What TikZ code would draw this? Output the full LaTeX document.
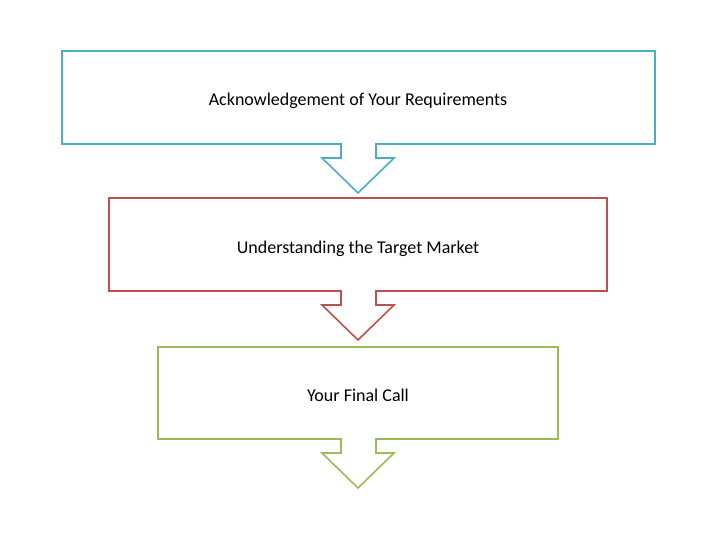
\documentclass[tikz,border=0pt]{standalone}
\usepackage{fontspec}
\setmainfont{Carlito}
\definecolor{cblue}{HTML}{4BACC6}
\definecolor{cred}{HTML}{C0504D}
\definecolor{cgreen}{HTML}{9BBB59}
\begin{document}
\begin{tikzpicture}[x=1pt,y=-1pt,
  outline/.style={line width=1.6pt,line join=miter},
  lbl/.style={font=\fontsize{18}{22}\selectfont,text=black,inner sep=0pt,anchor=base}]
\useasboundingbox (0,0) rectangle (720,540);
% box 1
\draw[outline,cblue] (62,51) -- (655,51) -- (655,144) -- (376,144) -- (376,158) -- (394,158) -- (358,193) -- (322,158) -- (341,158) -- (341,144) -- (62,144) -- cycle;
\node[lbl] (t1) at (358,106) {Acknowledgement of Your Requirements};
% box 2
\draw[outline,cred] (109,198) -- (607,198) -- (607,291) -- (376,291) -- (376,305) -- (394,305) -- (358,340) -- (322,305) -- (341,305) -- (341,291) -- (109,291) -- cycle;
\node[lbl] (t2) at (358,253) {Understanding the Target Market};
% box 3
\draw[outline,cgreen] (158,347) -- (558,347) -- (558,439) -- (376,439) -- (376,453) -- (394,453) -- (358,488) -- (322,453) -- (341,453) -- (341,439) -- (158,439) -- cycle;
\node[lbl] (t3) at (358,401) {Your Final Call};
\end{tikzpicture}
\end{document}
